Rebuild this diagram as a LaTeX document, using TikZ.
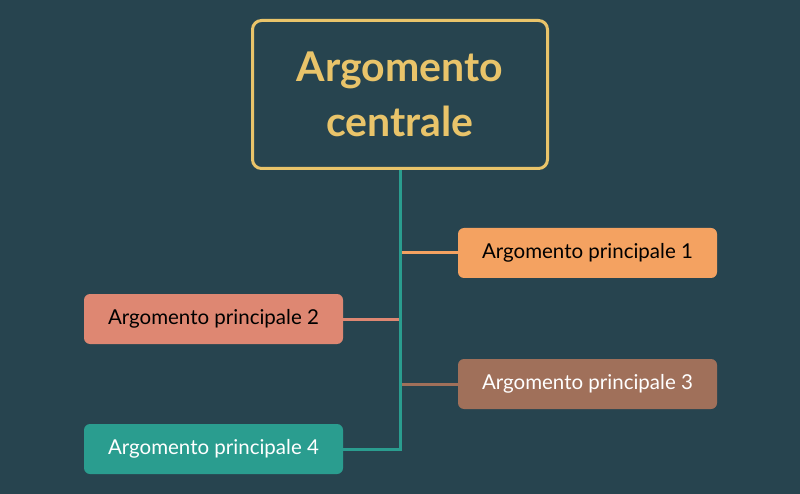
\documentclass[tikz,border=0pt]{standalone}
\usepackage{fontspec}
\usetikzlibrary{calc}
\setmainfont{Lato}
\definecolor{bg}{HTML}{27444F}
\definecolor{gold}{HTML}{E9C46A}
\definecolor{teal}{HTML}{2A9D8F}
\definecolor{sand}{HTML}{F4A261}
\definecolor{salmon}{HTML}{DE8772}
\definecolor{brown}{HTML}{A0705A}
\begin{document}
\begin{tikzpicture}[x=1pt,y=-1pt,
  branch/.style={rounded corners=6pt,minimum width=259pt,minimum height=50pt,inner sep=0pt,font=\fontsize{20.5}{24}\selectfont},
  link/.style={line width=3pt}]
\fill[bg] (0,0) rectangle (800,494);
\useasboundingbox (0,0) rectangle (800,494);
\node[draw=gold,line width=3pt,rounded corners=9pt,minimum width=295pt,minimum height=148pt,inner sep=0pt,
  text=gold,align=center,font=\bfseries\fontsize{41}{55}\selectfont] (cb) at (400,94.5) {Argomento\\centrale};
\node[branch,fill=sand,text=black] (n1) at (587.5,253) {Argomento principale 1};
\node[branch,fill=salmon,text=black] (n2) at (213.5,319) {Argomento principale 2};
\node[branch,fill=brown,text=white] (n3) at (587.5,384) {Argomento principale 3};
\node[branch,fill=teal,text=white] (n4) at (213.5,449) {Argomento principale 4};
\coordinate (t1) at (n1.west -| cb.south);
\coordinate (t2) at (n2.east -| cb.south);
\coordinate (t3) at (n3.west -| cb.south);
\coordinate (t4) at (n4.east -| cb.south);
\draw[link,teal] (cb.south) -- (t4) -- (n4.east);
\draw[link,sand] ($(t1)+(1.5,0)$) -- (n1.west);
\draw[link,salmon] (n2.east) -- ($(t2)+(-1.5,0)$);
\draw[link,brown] ($(t3)+(1.5,0)$) -- (n3.west);
\end{tikzpicture}
\end{document}
